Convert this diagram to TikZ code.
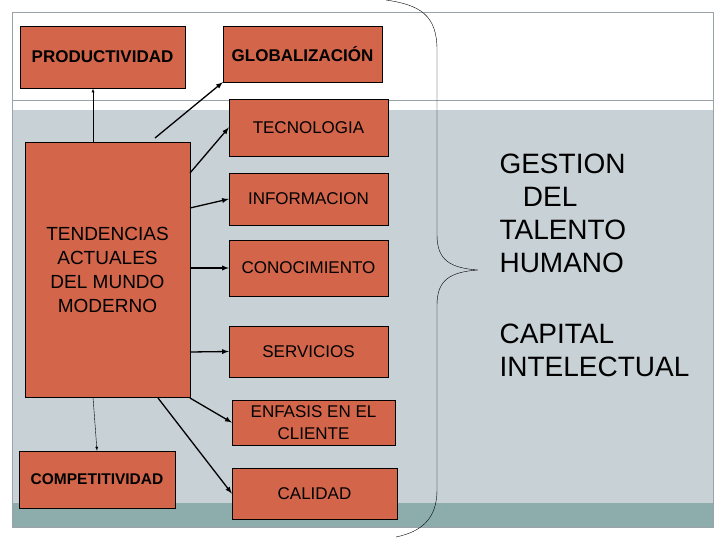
\documentclass[tikz,border=0pt]{standalone}
\usepackage{fontspec}
\setmainfont{Liberation Sans}
\definecolor{boxc}{HTML}{D2654A}
\definecolor{bgg}{HTML}{C8D1D6}
\definecolor{teal2}{HTML}{8DADAD}
\definecolor{frame}{HTML}{9AA4A8}
\tikzset{bx/.style={draw=black,fill=boxc,align=center,font=\fontsize{17}{22}\selectfont,inner sep=0pt},
bb/.style={font=\bfseries\fontsize{17}{20}\selectfont},
arr/.style={-latex,line width=1.3pt,black},
big/.style={font=\fontsize{28}{33}\selectfont,align=left,anchor=north west}}
\begin{document}
\begin{tikzpicture}[x=1pt,y=-1pt]
\useasboundingbox (0,0) rectangle (720,540);
\fill[white] (0,0) rectangle (720,540);
\fill[bgg] (12,110) rectangle (713,503);
\fill[teal2] (12,503) rectangle (713,527);
\draw[frame] (12,12) rectangle (713,527);
\draw[frame] (12,100) -- (713,100);
\draw[frame,line width=4pt] (342,104) arc (180:0:18);
\node[bx,bb,minimum width=165pt,minimum height=62pt] (prod) at (102.5,57) {PRODUCTIVIDAD};
\node[bx,bb,minimum width=159pt,minimum height=56pt] (glob) at (302.5,54) {GLOBALIZACIÓN};
\node[bx,minimum width=159pt,minimum height=57pt] (tec) at (308.5,127.5) {TECNOLOGIA};
\node[bx,minimum width=159pt,minimum height=52pt] (inf) at (308.5,199) {INFORMACION};
\node[bx,minimum width=159pt,minimum height=56pt] (con) at (308.5,268) {CONOCIMIENTO};
\node[bx,minimum width=159pt,minimum height=51pt] (ser) at (308.5,351.5) {SERVICIOS};
\node[bx,minimum width=163pt,minimum height=45pt] (enf) at (313.5,422.5) {ENFASIS EN EL\\CLIENTE};
\node[bx,minimum width=165pt,minimum height=51pt] (cal) at (314.5,493.5) {CALIDAD};
\node[bx,bb,minimum width=156pt,minimum height=57pt,font=\bfseries\fontsize{15.5}{18}\selectfont] (comp) at (97,479.5) {COMPETITIVIDAD};
\node[bx,minimum width=165pt,minimum height=255pt,font=\fontsize{19}{24}\selectfont] (ten) at (107.5,269.5) {TENDENCIAS\\ACTUALES\\DEL MUNDO\\MODERNO};
\coordinate (t1) at (93,142);
\coordinate (t2) at (155,138);
\coordinate (t3) at (190,173);
\coordinate (t4) at (190,208);
\coordinate (t5) at (190,268);
\coordinate (t6) at (190,352);
\coordinate (t7) at (190,398);
\coordinate (t8) at (158,398);
\coordinate (t9) at (93,397);
\draw[arr,thin] (t1) -- (93,88.5) coordinate (p1);
\draw[arr] (t2) -- (glob.south west);
\draw[arr] (t3) -- (tec.west);
\draw[arr] (t4) -- (inf.west);
\draw[arr] (t5) -- (con.west);
\draw[arr] (t6) -- (ser.west);
\draw[arr] (t7) -- (enf.west);
\draw[arr] (t8) -- (cal.west);
\draw[arr,thin] (t9) -- (comp.north);
\coordinate (b1) at (386,0);
\coordinate (b2) at (396,537);
\coordinate (bt) at (478,270);
\draw[black] (b1) .. controls (420,5) and (437,15) .. (437,50) -- (437,235) .. controls (437,260) and (450,268) .. (bt) .. controls (450,272) and (437,280) .. (437,305) -- (437,490) .. controls (437,520) and (420,532) .. (b2);
\node[big] (g) at (496,150) {GESTION\\\ \ \ DEL\\TALENTO\\HUMANO};
\node[big] (c) at (496,320) {CAPITAL\\INTELECTUAL};
\end{tikzpicture}
\end{document}
